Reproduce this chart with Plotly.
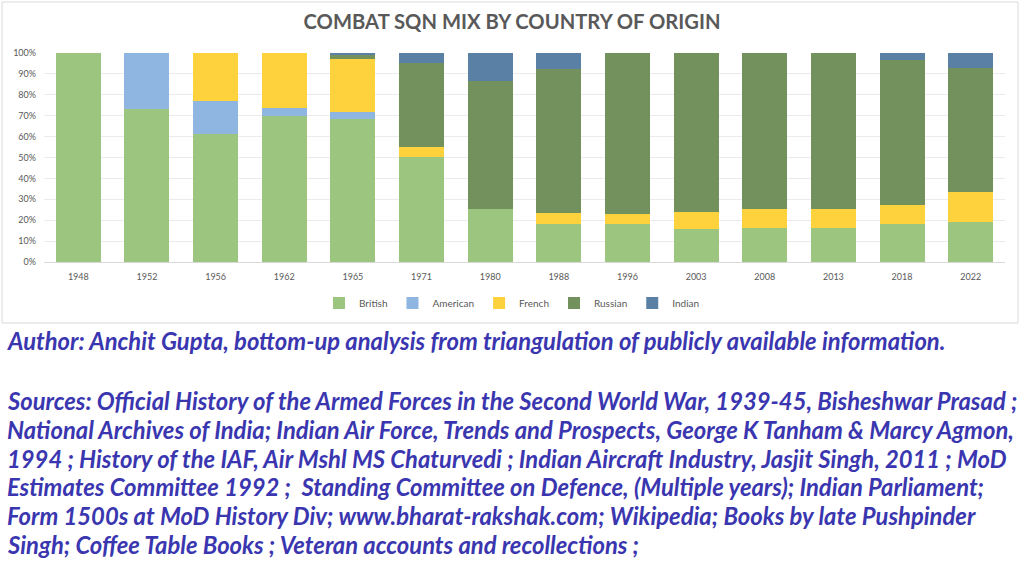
import plotly.graph_objects as go

years = ["1948", "1952", "1956", "1962", "1965", "1971", "1980", "1988",
         "1996", "2003", "2008", "2013", "2018", "2022"]
british = [100, 73.3, 61.1, 69.9, 68.5, 50.4, 25.6, 18.4, 18.4, 15.7, 16.5, 16.5, 18.4, 19.2]
american = [0, 26.7, 16.0, 3.7, 3.5, 0, 0, 0, 0, 0, 0, 0, 0, 0]
french = [0, 0, 22.9, 26.4, 25.0, 4.8, 0, 5.1, 4.8, 8.0, 9.1, 9.1, 8.8, 14.4]
russian = [0, 0, 0, 0, 2.5, 40.0, 60.8, 68.8, 76.8, 76.3, 74.4, 74.4, 69.3, 59.2]
indian = [0, 0, 0, 0, 0.5, 4.8, 13.6, 7.7, 0, 0, 0, 0, 3.5, 7.2]

series = [("British", british, "#9cc57f"),
          ("American", american, "#8fb6e0"),
          ("French", french, "#fdd23c"),
          ("Russian", russian, "#72915c"),
          ("Indian", indian, "#5b80a6")]

title_text = "COMBAT SQN MIX BY COUNTRY OF ORIGIN"
author_line = "Author: Anchit Gupta, bottom-up analysis from triangulation of publicly available information."
source_lines = [
    "Sources: Official History of the Armed Forces in the Second World War, 1939-45, Bisheshwar Prasad ;",
    "National Archives of India; Indian Air Force, Trends and Prospects, George K Tanham &amp; Marcy Agmon,",
    "1994 ; History of the IAF, Air Mshl MS Chaturvedi ; Indian Aircraft Industry, Jasjit Singh, 2011 ; MoD",
    "Estimates Committee 1992 ;  Standing Committee on Defence, (Multiple years); Indian Parliament;",
    "Form 1500s at MoD History Div; www.bharat-rakshak.com; Wikipedia; Books by late Pushpinder",
    "Singh; Coffee Table Books ; Veteran accounts and recollections ;",
]

W, H = 1024, 563
ML, MR, MT, MB = 44, 19, 53, 301
PW = W - ML - MR
PH = H - MT - MB


def px_x(px):
    return (px - ML) / PW


def px_y(py):
    return (H - MB - py) / PH


fig = go.Figure()
for name, vals, col in series:
    fig.add_trace(go.Bar(name=name, x=years, y=vals, marker_color=col,
                         marker_line_width=0))

text_color = "#3a36b0"
text_font = dict(family="Lato", size=23.8, color=text_color, weight="bold", style="italic")
annotations = [dict(text=author_line, x=px_x(5), y=px_y(341), xref="paper", yref="paper",
                    xanchor="left", yanchor="middle", showarrow=False, font=text_font)]
y0 = 401
for i, line in enumerate(source_lines):
    annotations.append(dict(text=line, x=px_x(5), y=px_y(y0 + i * 28.8), xref="paper", yref="paper",
                            xanchor="left", yanchor="middle", showarrow=False, font=text_font))

fig.update_layout(
    barmode="stack",
    bargap=0.345,
    width=W, height=H,
    margin=dict(l=ML, r=MR, t=MT, b=MB, autoexpand=False),
    paper_bgcolor="white",
    plot_bgcolor="white",
    font=dict(family="Lato", color="#595959"),
    title=dict(text=title_text, x=0.5, xref="container", xanchor="center",
               y=1 - 22 / H, yref="container", yanchor="middle",
               font=dict(family="Lato", size=20.2, color="#595959", weight="bold")),
    xaxis=dict(showgrid=False, showline=True, linecolor="#d9d9d9", linewidth=1, automargin=False,
               tickfont=dict(size=9, color="#595959"), ticks="", ticklabelstandoff=6),
    yaxis=dict(range=[0, 100], dtick=10, ticksuffix="%", showgrid=True, automargin=False,
               gridcolor="#ebebeb", gridwidth=1, zeroline=False,
               tickfont=dict(size=9, color="#595959"), ticks="", ticklabelstandoff=7),
    legend=dict(orientation="h", x=0.5, xref="container", xanchor="center",
                y=1 - 303 / H, yref="container", yanchor="middle",
                font=dict(size=10, color="#595959"), itemwidth=30,
                traceorder="normal"),
    annotations=annotations,
    shapes=[dict(type="rect", xref="paper", yref="paper",
                 x0=px_x(2), x1=px_x(1018), y0=px_y(323), y1=px_y(2),
                 line=dict(color="#d9d9d9", width=1), fillcolor="rgba(0,0,0,0)", layer="below")],
)

fig.write_html("out.html")
